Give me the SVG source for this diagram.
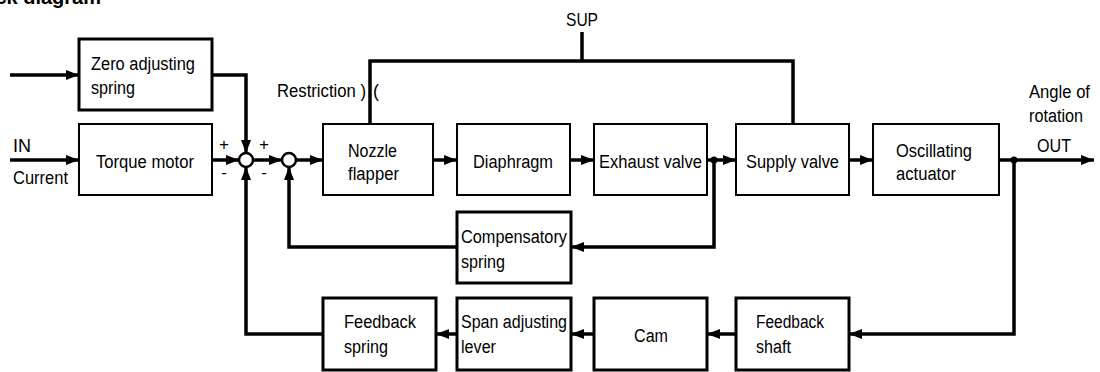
<svg xmlns="http://www.w3.org/2000/svg" width="1100" height="372" viewBox="0 0 1100 372">
<style>
text{font-family:"Liberation Sans",Arial,sans-serif;font-size:18px;fill:#000}
.t{font-weight:bold;font-size:20px}
.s{font-size:17px}
.b{fill:#fff;stroke:#000;stroke-width:2}
.bt{fill:#fff;stroke:#000;stroke-width:3}
.c{fill:none;stroke:#000;stroke-width:3.5}
.a{marker-end:url(#ah)}
</style>
<defs>
<marker id="ah" viewBox="0 0 13 10" refX="13" refY="5" markerWidth="13" markerHeight="10" markerUnits="userSpaceOnUse" orient="auto"><path d="M0,0 L13,5 L0,10 z" fill="#000"/></marker>
</defs>
<rect width="1100" height="372" fill="#fff"/>
<text class="t" x="101" y="4" text-anchor="end">Block diagram</text>

<g id="connectors">
<path class="c a" d="M10,75 H79"/>
<path class="c a" d="M10,160 H79"/>
<path class="c a" d="M212,75 H246 V153"/>
<path class="c a" d="M212,160 H239"/>
<path class="c a" d="M253,160 H282"/>
<path class="c a" d="M296,160 H323"/>
<path class="c a" d="M433,160 H457"/>
<path class="c a" d="M570,160 H594"/>
<path class="c a" d="M707,160 H736"/>
<path class="c a" d="M849,160 H873"/>
<path class="c a" d="M999,160 H1094"/>
<path class="c a" d="M714,160 V247 H571"/>
<path class="c a" d="M457,247 H289 V167"/>
<path class="c a" d="M1014,160 V334 H849"/>
<path class="c a" d="M736,334 H707"/>
<path class="c a" d="M594,334 H571"/>
<path class="c a" d="M457,334 H436"/>
<path class="c a" d="M323,334 H246 V167"/>
<path class="c" d="M370,124 V61 H793 V124"/>
<path class="c" d="M582,32 V61"/>
<circle cx="714" cy="160" r="3.5"/>
<circle cx="1014" cy="160" r="3.5"/>
</g>

<g id="sum1"><circle cx="246" cy="160" r="7" fill="#fff" stroke="#000" stroke-width="2.5"/>
<text class="s" x="224" y="150" text-anchor="middle">+</text><text class="s" x="224" y="178" text-anchor="middle">-</text></g>
<g id="sum2"><circle cx="289" cy="160" r="7" fill="#fff" stroke="#000" stroke-width="2.5"/>
<text class="s" x="264" y="150" text-anchor="middle">+</text><text class="s" x="264" y="178" text-anchor="middle">-</text></g>

<g id="labels">
<text x="13" y="152" textLength="18" lengthAdjust="spacingAndGlyphs">IN</text>
<text x="13" y="184" textLength="55" lengthAdjust="spacingAndGlyphs">Current</text>
<text x="566" y="26" textLength="32" lengthAdjust="spacingAndGlyphs">SUP</text>
<text x="277" y="97" textLength="89" lengthAdjust="spacingAndGlyphs">Restriction )</text>
<text x="373" y="97">(</text>
<text x="1029" y="98" textLength="61" lengthAdjust="spacingAndGlyphs">Angle of</text>
<text x="1029" y="122" textLength="54" lengthAdjust="spacingAndGlyphs">rotation</text>
<text x="1037" y="152" textLength="34" lengthAdjust="spacingAndGlyphs">OUT</text>
</g>

<g id="zero-adjusting-spring"><rect class="bt" x="79" y="39" width="133" height="71"/>
<text x="91" y="70" textLength="104" lengthAdjust="spacingAndGlyphs">Zero adjusting</text>
<text x="91" y="94" textLength="44" lengthAdjust="spacingAndGlyphs">spring</text></g>

<g id="torque-motor"><rect class="b" x="79" y="124" width="133" height="71"/>
<text x="96" y="168" textLength="98" lengthAdjust="spacingAndGlyphs">Torque motor</text></g>

<g id="nozzle-flapper"><rect class="b" x="323" y="124" width="110" height="71"/>
<text x="348" y="157" textLength="49" lengthAdjust="spacingAndGlyphs">Nozzle</text>
<text x="348" y="180" textLength="51" lengthAdjust="spacingAndGlyphs">flapper</text></g>

<g id="diaphragm"><rect class="b" x="457" y="124" width="113" height="71"/>
<text x="473" y="168" textLength="80" lengthAdjust="spacingAndGlyphs">Diaphragm</text></g>

<g id="exhaust-valve"><rect class="b" x="594" y="124" width="113" height="71"/>
<text x="599" y="168" textLength="103" lengthAdjust="spacingAndGlyphs">Exhaust valve</text></g>

<g id="supply-valve"><rect class="b" x="736" y="124" width="113" height="71"/>
<text x="746" y="168" textLength="93" lengthAdjust="spacingAndGlyphs">Supply valve</text></g>

<g id="oscillating-actuator"><rect class="b" x="873" y="124" width="126" height="71"/>
<text x="896" y="157" textLength="76" lengthAdjust="spacingAndGlyphs">Oscillating</text>
<text x="896" y="180" textLength="60" lengthAdjust="spacingAndGlyphs">actuator</text></g>

<g id="compensatory-spring"><rect class="bt" x="457" y="212" width="114" height="71"/>
<text x="461" y="243" textLength="106" lengthAdjust="spacingAndGlyphs">Compensatory</text>
<text x="461" y="268" textLength="44" lengthAdjust="spacingAndGlyphs">spring</text></g>

<g id="feedback-spring"><rect class="bt" x="323" y="298" width="113" height="72"/>
<text x="344" y="328" textLength="72" lengthAdjust="spacingAndGlyphs">Feedback</text>
<text x="344" y="353" textLength="44" lengthAdjust="spacingAndGlyphs">spring</text></g>

<g id="span-adjusting-lever"><rect class="bt" x="457" y="298" width="114" height="72"/>
<text x="461" y="328" textLength="106" lengthAdjust="spacingAndGlyphs">Span adjusting</text>
<text x="461" y="353" textLength="35" lengthAdjust="spacingAndGlyphs">lever</text></g>

<g id="cam"><rect class="bt" x="594" y="298" width="113" height="72"/>
<text x="634" y="342" textLength="34" lengthAdjust="spacingAndGlyphs">Cam</text></g>

<g id="feedback-shaft"><rect class="bt" x="736" y="298" width="113" height="72"/>
<text x="756" y="328" textLength="68" lengthAdjust="spacingAndGlyphs">Feedback</text>
<text x="756" y="353" textLength="35" lengthAdjust="spacingAndGlyphs">shaft</text></g>
</svg>
